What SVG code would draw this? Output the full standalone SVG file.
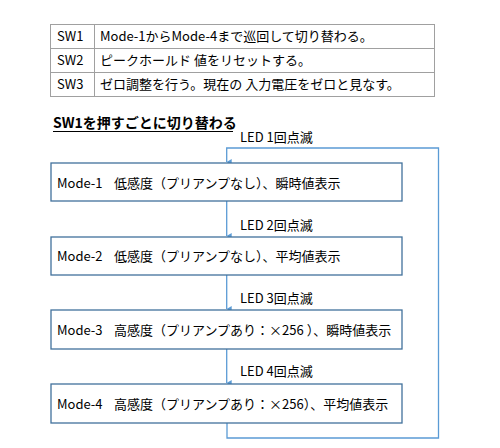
<svg xmlns="http://www.w3.org/2000/svg" width="500" height="448" viewBox="0 0 500 448">
<style>
text{font-family:"Noto Sans CJK JP","Noto Sans",sans-serif;font-size:13px;fill:#000}
.tb{fill:none;stroke:#a0a0a0;stroke-width:1}
.box{fill:#fff;stroke:#41719c;stroke-width:1.3}
.con{fill:none;stroke:#5b9bd5;stroke-width:1.3}
.title{font-weight:bold;font-size:14px}
</style>
<defs>
<marker id="ah" markerWidth="6" markerHeight="5" refX="3" refY="5" orient="auto-start-reverse" markerUnits="userSpaceOnUse" viewBox="0 0 6 5">
<path d="M0,0 L6,0 L3,5 Z" fill="#5b9bd5"/>
</marker>
</defs>
<rect width="500" height="448" fill="#fff"/>
<g id="table">
<rect class="tb" x="50.5" y="24.5" width="384" height="72"/>
<line class="tb" x1="50.5" y1="48.5" x2="434.5" y2="48.5"/>
<line class="tb" x1="50.5" y1="72.5" x2="434.5" y2="72.5"/>
<line class="tb" x1="94.5" y1="24.5" x2="94.5" y2="96.5"/>
<text x="57" y="41">SW1</text>
<text x="100" y="41">Mode-1からMode-4まで巡回して切り替わる。</text>
<text x="57" y="65">SW2</text>
<text x="100" y="65" xml:space="preserve">ピークホールド 値をリセットする。</text>
<text x="57" y="89">SW3</text>
<text x="100" y="89" xml:space="preserve">ゼロ調整を行う。現在の 入力電圧をゼロと見なす。</text>
</g>
<g id="title">
<text class="title" x="53" y="128">SW1を押すごとに切り替わる</text>
<line x1="53" y1="131.5" x2="233" y2="131.5" stroke="#000" stroke-width="1"/>
</g>
<g id="connectors">
<path class="con" d="M227,423 V438 H438.5 V148 H226.7 V162" marker-end="url(#ah)"/>
<line class="con" x1="226.7" y1="201" x2="226.7" y2="236" marker-end="url(#ah)"/>
<line class="con" x1="226.7" y1="275" x2="226.7" y2="309" marker-end="url(#ah)"/>
<line class="con" x1="226.7" y1="349" x2="226.7" y2="383" marker-end="url(#ah)"/>
<text x="240" y="142" xml:space="preserve">LED 1回点滅</text>
<text x="240" y="230" xml:space="preserve">LED 2回点滅</text>
<text x="240" y="303" xml:space="preserve">LED 3回点滅</text>
<text x="240" y="376" xml:space="preserve">LED 4回点滅</text>
</g>
<g id="mode1">
<rect class="box" x="51" y="163" width="351" height="38"/>
<text x="57" y="188">Mode-1<tspan x="114">低感度（プリアンプなし）、瞬時値表示</tspan></text>
</g>
<g id="mode2">
<rect class="box" x="51" y="237" width="351" height="38"/>
<text x="57" y="261">Mode-2<tspan x="114">低感度（プリアンプなし）、平均値表示</tspan></text>
</g>
<g id="mode3">
<rect class="box" x="51" y="310" width="351" height="39"/>
<text x="57" y="335" xml:space="preserve">Mode-3<tspan x="114">高感度（プリアンプあり：×256 ）、瞬時値表示</tspan></text>
</g>
<g id="mode4">
<rect class="box" x="51" y="384" width="351" height="39"/>
<text x="57" y="409">Mode-4<tspan x="114">高感度（プリアンプあり：×256）、平均値表示</tspan></text>
</g>
</svg>
